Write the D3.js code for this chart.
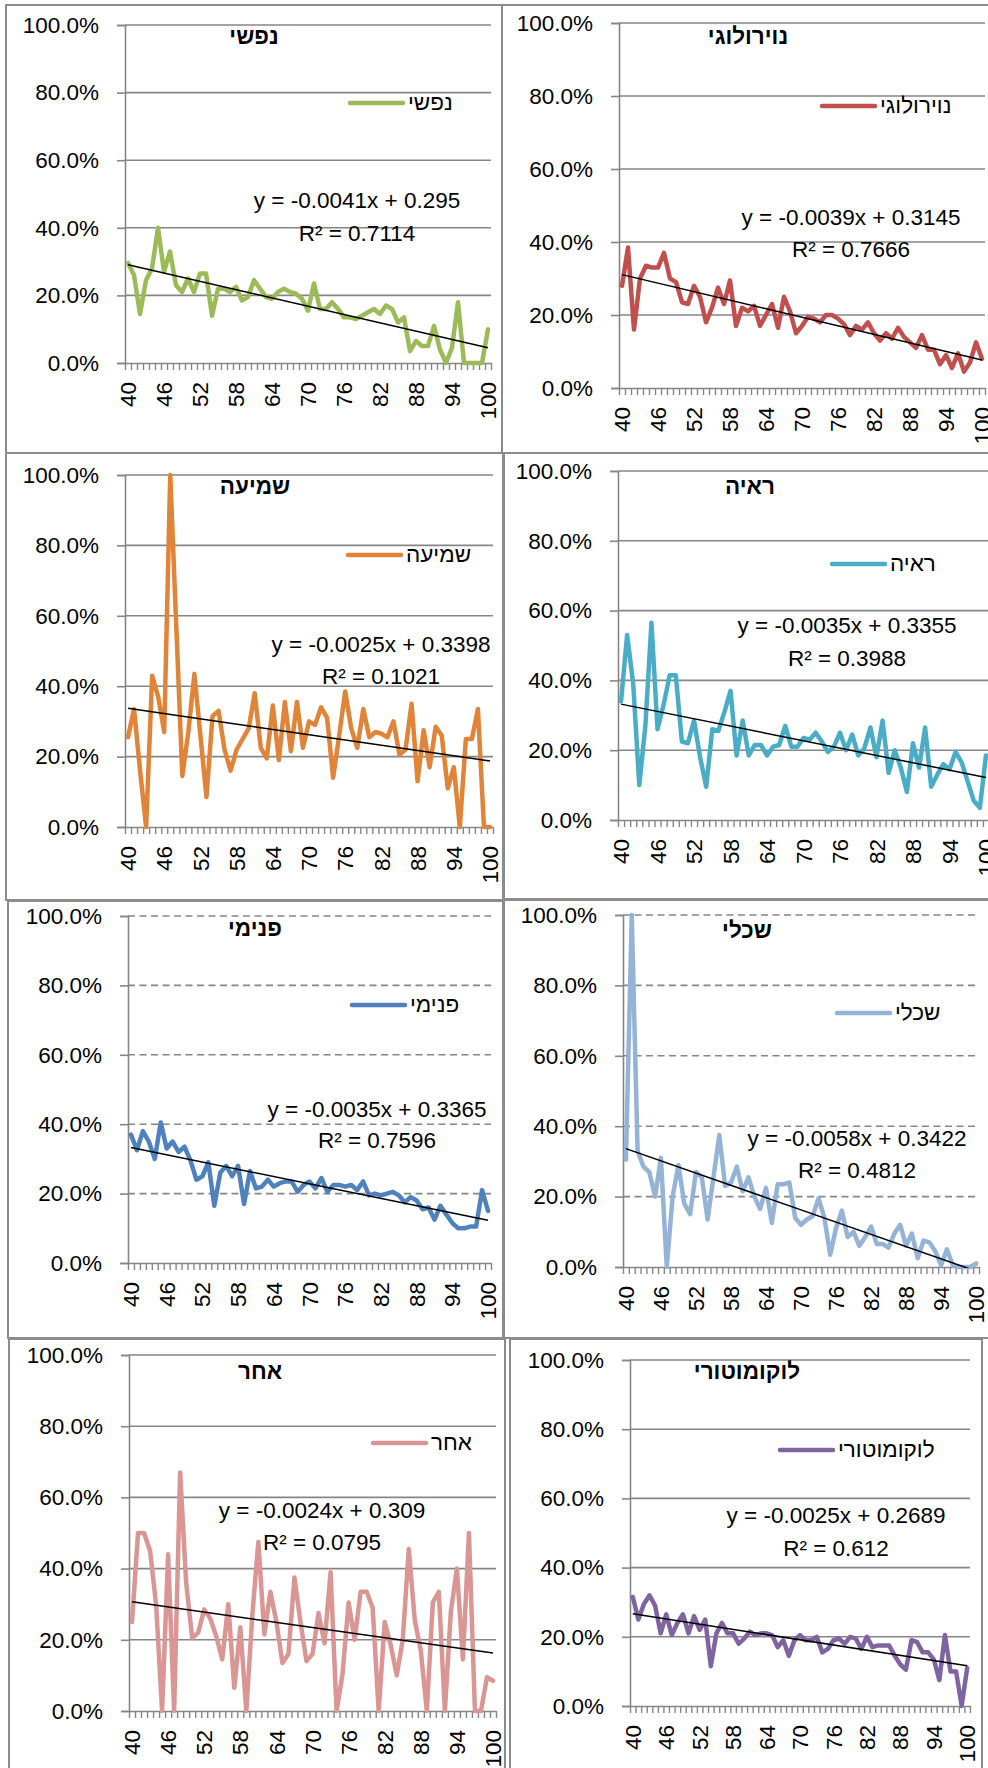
<!DOCTYPE html>
<html>
<head>
<meta charset="utf-8">
<script src="https://cdn.jsdelivr.net/npm/d3@7"></script>
<style>
  body { margin: 0; background: #fff; }
  text { font-family: "Liberation Sans", Arial, "DejaVu Sans", sans-serif; }
</style>
</head>
<body>
<div id="chart"></div>
<script>
// ages on the category axis
const categories = [40,41,42,43,44,45,46,47,48,49,50,51,52,53,54,55,56,57,58,59,60,
  61,62,63,64,65,66,67,68,69,70,71,72,73,74,75,76,77,78,79,80,
  81,82,83,84,85,86,87,88,89,90,91,92,93,94,95,96,97,98,99,100];
const tickLabels = [40,46,52,58,64,70,76,82,88,94,100];
const yTicks = [0, 0.2, 0.4, 0.6, 0.8, 1.0];

const names = ["נפשי","נוירולוגי","שמיעה","ראיה","פנימי","שכלי","אחר","לוקומוטורי"];

// values in percent
const nafshi = [29.6,26,14.5,24.5,28,40,27,33,23,21,25,21,26.5,26.5,14,22,22,21,22.5,18.5,19.5,
  24.5,22,19.5,19,21,22,21,20.5,19,15.5,23.5,16,16,18,16,13.5,13.5,13,14,15,
  16,14.5,17,16,12,13.5,3.5,6.5,5,5,11,4,0,4.5,18,0,0,0,0,10];
const neurologi = [28,38.5,16,30,33.5,33,33,37,30,29,23.5,23,28,25,18,22,27.5,23,29.5,17,22,
  21,22.5,17,20,23,16.5,25,21,15,17,19.5,19,18,20,20,19,17.5,14.5,17,16,
  18,15,13,15,13.5,16.5,14,12.5,11,14.5,10.5,10.5,6.5,9,5.5,9.5,4.5,7,12.5,8];
const shmia = [25.5,33.5,16,0,43,37,27,100,57,14.5,27,43.5,26,8.5,31.5,33,22,16,22,25,28,
  38,22.5,19.5,34.5,19,35.5,21.5,35.5,22.5,30,29,34,31,14,26,38.5,28,22.5,33.5,25.5,
  27,26.5,25.5,30,20.5,22,35,13,27.5,17,28.5,26,11,17,0,25,25,33.5,0,0];
const reiya = [34,53,39,10,27,56.5,26,33,41.5,41.5,22.5,22,28.5,18,9.5,26,25.5,31,37,18.5,28.5,
  18.5,21.5,21.5,18.5,21,21.5,27,21,21,23.5,23,25,22.5,19.5,21,25,20,24.5,18.5,20.5,
  26.5,18,28.5,13.5,20,15,8,22,15,26.5,9.5,13,16,14.5,19.5,16.5,11,5.5,3.5,18.5];
const pnimi = [37,32.5,38,35,30,40.5,33,35,32,33.5,29.5,24,25,29,16.5,26,28,25,28,17,26.5,
  21.5,22,24,22,23,23.5,23.5,20.5,22.5,23.5,21.5,24.5,20.5,22.5,22.5,22,22.5,21,23.5,19.5,
  20,19.5,20,20.5,19.5,17.5,19,18,15.5,16,12.5,16.5,14,11.5,10,10,10.5,10.5,21,15];
const sichli = [30.5,100,33,28.5,27,20,31,0,20,29,18,15,27,25.5,13.5,25.5,37.5,23,24,28.5,21.5,
  25.5,20,16.5,22.5,12.5,23.5,23.5,24,14,12,13.5,14.5,19.5,14,3.5,11,16,8.5,10,6,
  8.5,11.5,6.5,6.5,5.5,9.5,12,6,9.5,2.5,7.5,7,4.5,0.5,5,0.5,0,0,0,1];
const acher = [25,50,50,45,30,0,44,0,67,36,20.5,22,28.5,26,21,14.5,30,6.5,23.5,0,27,
  47.5,21.5,33.5,25,13.5,16,37.5,25,14,16,27.5,19,39,0,10.5,30.5,20,33.5,33.5,29,
  0,25,18.5,10,20,45.5,25.5,17,0,30.5,33.5,0,28,40,14.5,50,0,0,9.5,8.5];
const locomotori = [31.5,25,29.5,32,29,21,26.5,20.5,24,26.5,21,26,22,25,11.5,21,24,21,21,18,19.5,
  21.5,20.5,21,21,20.5,17,19,14.5,19,20.5,19,19,20,15.5,16.5,19,19.5,18,20,19.5,
  16.5,20,17,17.5,17.5,17.5,14.5,12,10.5,19,18.5,15.5,15.5,13.5,7.5,20.5,10,10,0,11];

const seriesValues = [nafshi, neurologi, shmia, reiya, pnimi, sichli, acher, locomotori];

// linear trendlines as printed on the chart (x = category index from 1)
const slopes = [-0.0041, -0.0039, -0.0025, -0.0035, -0.0035, -0.0058, -0.0024, -0.0025];
const intercepts = [0.295, 0.3145, 0.3398, 0.3355, 0.3365, 0.3422, 0.309, 0.2689];
const rSquared = ["0.7114", "0.7666", "0.1021", "0.3988", "0.7596", "0.4812", "0.0795", "0.612"];

// layout of each small chart on the page
const panels = [
  {box:[6,5,502,453], x0:125, x1:491, top:25, bot:363, title:[254,44], legend:[350,103], eq:[357,208,241], color:"#9BBB59", dashed:false},
  {box:[502,5,1000,453], x0:619, x1:985, top:23, bot:388, title:[748,44], legend:[822,106], eq:[851,225,257], color:"#C0504D", dashed:false},
  {box:[6,453,503,900], x0:125, x1:493, top:475, bot:827, title:[255,494], legend:[348,555], eq:[381,652,684], color:"#DF8439", dashed:false},
  {box:[504,453,1000,900], x0:618, x1:989, top:471, bot:820, title:[750,494], legend:[832,564], eq:[847,633,666], color:"#4BACC6", dashed:false},
  {box:[8,901,503,1338], x0:128, x1:491, top:916, bot:1263, title:[255,936], legend:[352,1005], eq:[377,1117,1148], color:"#4F81BD", dashed:true},
  {box:[504,899,1000,1338], x0:623, x1:979, top:915, bot:1267, title:[747,938], legend:[837,1013], eq:[857,1146,1178], color:"#95B3D7", dashed:true},
  {box:[9,1339,505,1800], x0:129, x1:496, top:1355, bot:1711, title:[260,1379], legend:[373,1443], eq:[322,1518,1550], color:"#D99694", dashed:false},
  {box:[510,1339,982,1800], x0:630, x1:970, top:1360, bot:1706, title:[747,1379], legend:[780,1450], eq:[836,1523,1556], color:"#8064A2", dashed:false}
];

const gridColor = "#868686";
const fontSize = 22.5;

const svg = d3.select("#chart")
  .append("svg")
  .attr("width", 988)
  .attr("height", 1768);

panels.forEach((p, k) => {
  const values = seriesValues[k];
  const g = svg.append("g");

  // chart frame
  g.append("rect")
    .attr("x", p.box[0]).attr("y", p.box[1])
    .attr("width", p.box[2] - p.box[0]).attr("height", p.box[3] - p.box[1])
    .attr("fill", "none")
    .attr("stroke", "#8c8c8c")
    .attr("stroke-width", 2);

  const x = d3.scaleBand().domain(categories).range([p.x0, p.x1]).padding(0);
  const cx = d => x(d) + x.bandwidth() / 2;
  const y = d3.scaleLinear().domain([0, 1]).range([p.bot, p.top]);

  // gridlines
  g.append("g")
    .selectAll("line")
    .data(yTicks.slice(1))
    .enter()
    .append("line")
    .attr("x1", p.x0).attr("x2", p.x1)
    .attr("y1", d => y(d)).attr("y2", d => y(d))
    .attr("stroke", gridColor)
    .attr("stroke-width", 1.6)
    .attr("stroke-dasharray", p.dashed ? "7,4.5" : null);

  // y axis
  const yAxis = g.append("g")
    .attr("transform", "translate(" + p.x0 + ",0)")
    .call(d3.axisLeft(y)
      .tickValues(yTicks)
      .tickFormat(d => (d * 100).toFixed(1) + "%")
      .tickSize(8)
      .tickPadding(18));
  yAxis.select(".domain").attr("stroke", gridColor).attr("stroke-width", 1.6);
  yAxis.selectAll(".tick line").attr("stroke", gridColor).attr("stroke-width", 1.6);
  yAxis.selectAll("text")
    .attr("font-size", fontSize)
    .attr("fill", "#000")
    .style("font-family", "'Liberation Sans', Arial, sans-serif");

  // x axis: small ticks on the category edges
  const edge = d3.scaleLinear().domain([0, categories.length]).range([p.x0, p.x1]);
  const xAxis = g.append("g")
    .attr("transform", "translate(0," + p.bot + ")")
    .call(d3.axisBottom(edge)
      .tickValues(d3.range(categories.length + 1))
      .tickFormat("")
      .tickSize(7)
      .tickSizeOuter(0));
  xAxis.select(".domain").attr("stroke", gridColor).attr("stroke-width", 1.6);
  xAxis.selectAll(".tick line").attr("stroke", gridColor).attr("stroke-width", 1.4);

  // rotated category labels
  g.append("g")
    .selectAll("text")
    .data(tickLabels)
    .enter()
    .append("text")
    .attr("transform", d => "translate(" + cx(d) + "," + (p.bot + 19) + ") rotate(-90)")
    .attr("text-anchor", "end")
    .attr("dy", "0.36em")
    .attr("font-size", fontSize)
    .text(d => d);

  // the series
  const line = d3.line()
    .x((d, i) => cx(categories[i]))
    .y(d => y(d / 100));
  g.append("path")
    .datum(values)
    .attr("d", line)
    .attr("fill", "none")
    .attr("stroke", p.color)
    .attr("stroke-width", 4.5)
    .attr("stroke-linejoin", "round")
    .attr("stroke-linecap", "round");

  // trendline, clipped to the plot area
  const clipId = "clip" + k;
  svg.append("clipPath").attr("id", clipId)
    .append("rect")
    .attr("x", p.x0).attr("y", p.top)
    .attr("width", p.x1 - p.x0).attr("height", p.bot - p.top + 1);
  const trend = [categories[0], categories[categories.length - 1]];
  g.append("path")
    .datum(trend)
    .attr("clip-path", "url(#" + clipId + ")")
    .attr("d", d3.line()
      .x(d => cx(d))
      .y(d => y(slopes[k] * (categories.indexOf(d) + 1) + intercepts[k])))
    .attr("fill", "none")
    .attr("stroke", "#000")
    .attr("stroke-width", 1.5);

  // title
  g.append("text")
    .attr("x", p.title[0]).attr("y", p.title[1])
    .attr("text-anchor", "middle")
    .attr("font-size", fontSize)
    .attr("font-weight", "bold")
    .text(names[k]);

  // legend
  g.append("line")
    .attr("x1", p.legend[0]).attr("x2", p.legend[0] + 53)
    .attr("y1", p.legend[1]).attr("y2", p.legend[1])
    .attr("stroke", p.color)
    .attr("stroke-width", 4.5)
    .attr("stroke-linecap", "round");
  g.append("text")
    .attr("x", p.legend[0] + 58).attr("y", p.legend[1] + 7)
    .attr("font-size", fontSize)
    .text(names[k]);

  // trendline equation
  g.append("text")
    .attr("x", p.eq[0]).attr("y", p.eq[1])
    .attr("text-anchor", "middle")
    .attr("font-size", fontSize)
    .text("y = " + slopes[k] + "x + " + intercepts[k]);
  g.append("text")
    .attr("x", p.eq[0]).attr("y", p.eq[2])
    .attr("text-anchor", "middle")
    .attr("font-size", fontSize)
    .text("R² = " + rSquared[k]);
});
</script>
</body>
</html>
